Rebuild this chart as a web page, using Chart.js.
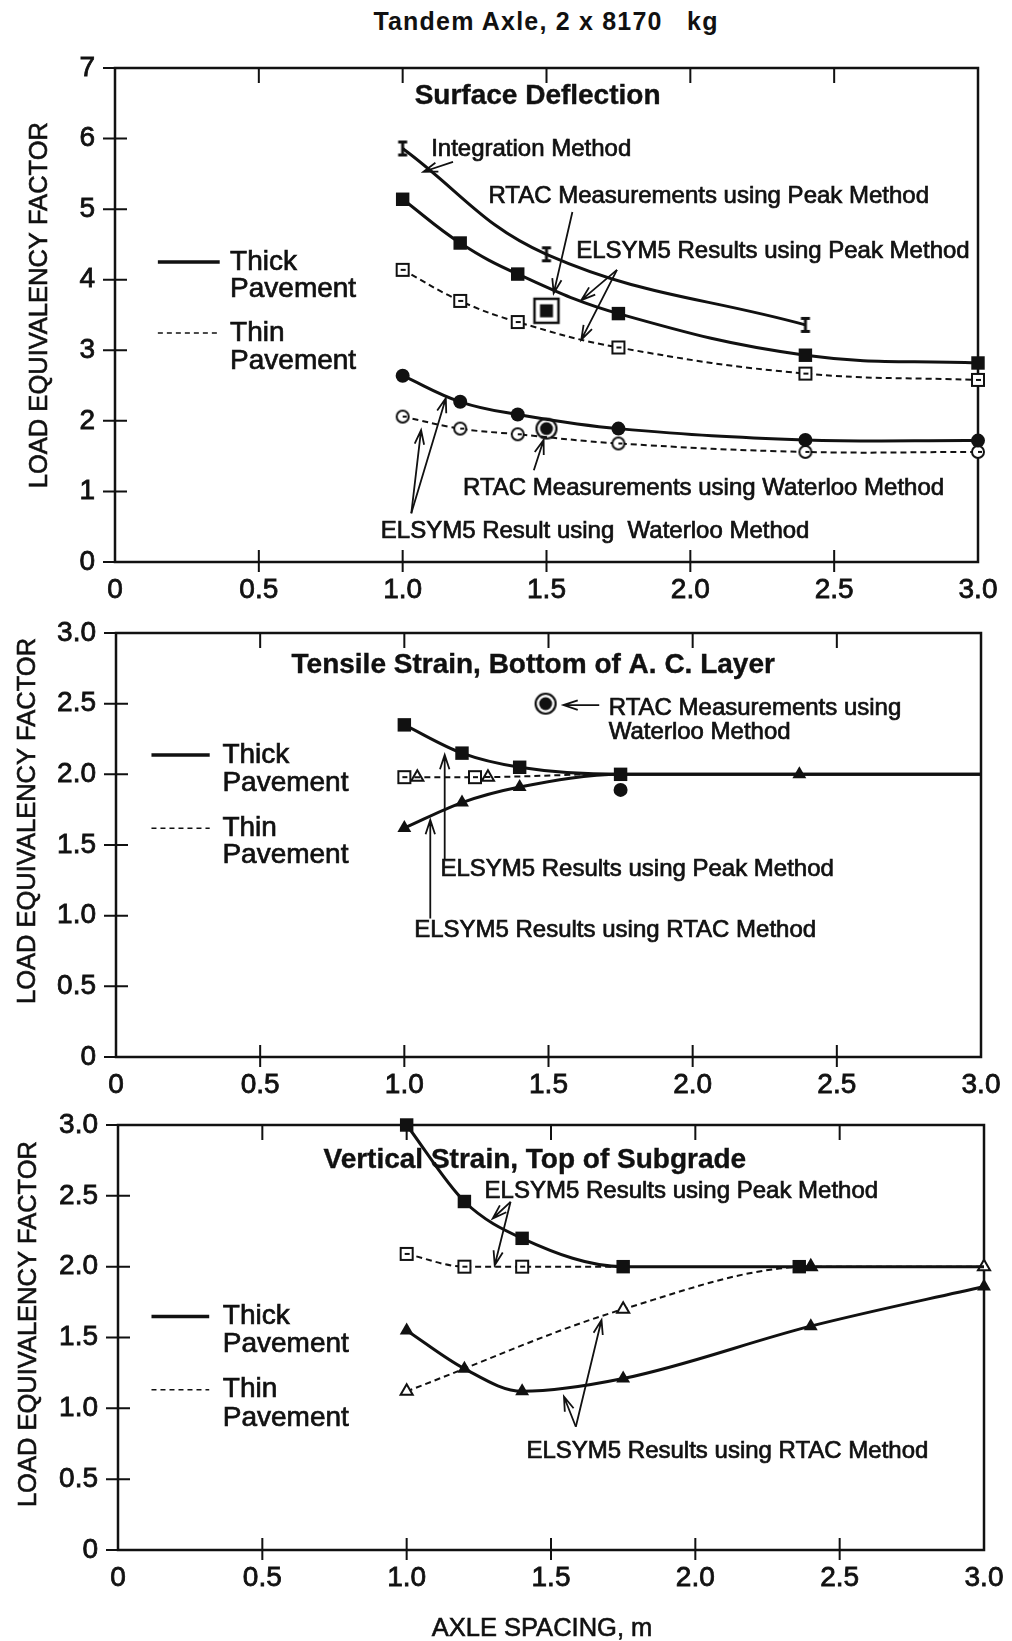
<!DOCTYPE html>
<html>
<head>
<meta charset="utf-8">
<title>Tandem Axle, 2 x 8170 kg</title>
<script src="https://cdn.jsdelivr.net/npm/chart.js@4.4.1/dist/chart.umd.min.js"></script>
<style>
  html, body { margin: 0; padding: 0; background: #fff; }
  body { width: 1012px; height: 1641px; position: relative; overflow: hidden;
         font-family: "Liberation Sans", Arial, Helvetica, sans-serif; color: #111; }
  canvas { position: absolute; left: 0; }
  #title { position: absolute; top: 6px; left: 0; width: 1092px; text-align: center;
           font-weight: bold; font-size: 25px; line-height: 30px; letter-spacing: 1.2px; white-space: pre; }
  #xtitle { position: absolute; top: 1612px; left: 0; width: 1084px; text-align: center;
            font-size: 25.5px; line-height: 30px; -webkit-text-stroke: 0.6px #111; }
</style>
</head>
<body>
<div id="title">Tandem Axle, 2 x 8170   kg</div>
<canvas id="surface" width="1012" height="600" style="top:30px"></canvas>
<canvas id="tensile" width="1012" height="520" style="top:590px"></canvas>
<canvas id="vertical" width="1012" height="556" style="top:1085px"></canvas>
<div id="xtitle">AXLE SPACING, m</div>
<script>
const FONT = '"Liberation Sans", Arial, Helvetica, sans-serif';
Chart.defaults.font.family = FONT;
Chart.defaults.color = '#111';

// tick labels
const xTickLabels = ['0', '0.5', '1.0', '1.5', '2.0', '2.5', '3.0'];
const yTickLabelsDefl = ['0', '1', '2', '3', '4', '5', '6', '7'];
const yTickLabelsStrain = ['0', '0.5', '1.0', '1.5', '2.0', '2.5', '3.0'];

// surface deflection (axle spacing, m -> load equivalency factor)
const defX = [1.0, 1.2, 1.4, 1.75, 2.4, 3.0];
const defThickPeak = [5.14, 4.52, 4.08, 3.52, 2.93, 2.82];
const defThinPeak = [4.14, 3.70, 3.40, 3.04, 2.67, 2.58];
const defThickWaterloo = [2.64, 2.27, 2.09, 1.89, 1.73, 1.72];
const defThinWaterloo = [2.06, 1.89, 1.81, 1.68, 1.56, 1.56];
const defIntegX = [1.0, 1.5, 2.4];
const defIntegration = [5.86, 4.36, 3.36];
const defRtacX = [1.5];
const defRtacPeak = [3.56];
const defRtacWaterloo = [1.89];

// tensile strain, bottom of A.C. layer
const tsX = [1.0, 1.2, 1.4, 1.75, 2.37, 3.0];
const tsThickPeak = [2.35, 2.15, 2.05, 2.0, 2.0, 2.0];
const tsThickRtac = [1.62, 1.80, 1.91, 2.0, 2.0, 2.0];
const tsThinPeakX = [1.0, 1.245, 1.4, 1.62];
const tsThinPeak = [1.98, 1.98, 1.985, 2.0];
const tsThinRtacX = [1.045, 1.29];
const tsThinRtac = [1.98, 1.98];
const tsWaterlooX = [1.75];
const tsWaterloo = [1.89];
const tsRtacX = [1.49];
const tsRtacWaterloo = [2.50];

// vertical strain, top of subgrade
const vsX = [1.0, 1.2, 1.4, 1.75, 2.36, 3.0];
const vsThickPeak = [3.0, 2.46, 2.20, 2.0, 2.0, 2.0];
const vsThinPeakX = [1.0, 1.2, 1.4, 1.75];
const vsThinPeak = [2.09, 2.0, 2.0, 2.0];
const vsRtacX = [1.0, 1.2, 1.4, 1.75, 2.4, 3.0];
const vsThickRtac = [1.55, 1.28, 1.12, 1.21, 1.58, 1.86];
const vsThinRtacX = [1.0, 1.75, 2.4, 3.0];
const vsThinRtac = [1.12, 1.70, 2.0, 2.0];

// small marker images
function icon(w, h, draw) {
  const c = document.createElement('canvas');
  c.width = w; c.height = h;
  const g = c.getContext('2d');
  g.strokeStyle = '#111'; g.fillStyle = '#111';
  draw(g);
  return c;
}
const iBeam = icon(12, 18, g => {
  g.lineWidth = 3;
  g.beginPath();
  g.moveTo(6, 2); g.lineTo(6, 16);
  g.moveTo(1.5, 2.5); g.lineTo(10.5, 2.5);
  g.moveTo(1.5, 15.5); g.lineTo(10.5, 15.5);
  g.stroke();
});
const openSquare = icon(16, 16, g => {
  g.fillStyle = '#fff'; g.fillRect(2, 2, 12, 12);
  g.lineWidth = 2; g.strokeRect(2, 2, 12, 12);
  g.fillStyle = '#111'; g.fillRect(6, 7, 5, 2);
});
const openCircle = icon(16, 16, g => {
  g.fillStyle = '#fff';
  g.beginPath(); g.arc(8, 8, 6, 0, Math.PI * 2); g.fill();
  g.lineWidth = 2; g.stroke();
  g.fillStyle = '#111'; g.fillRect(8, 7, 4, 2);
});
const squareTarget = icon(32, 32, g => {
  g.fillStyle = '#fff'; g.fillRect(4, 4, 24, 24);
  g.lineWidth = 2.5; g.strokeRect(4, 4, 24, 24);
  g.fillStyle = '#111'; g.fillRect(9.5, 9.5, 13, 13);
});
const circleTarget = icon(26, 26, g => {
  g.fillStyle = '#fff';
  g.beginPath(); g.arc(13, 13, 10, 0, Math.PI * 2); g.fill();
  g.lineWidth = 2.2; g.stroke();
  g.fillStyle = '#111';
  g.beginPath(); g.arc(13, 13, 6.5, 0, Math.PI * 2); g.fill();
});

function pts(xs, ys) { return xs.map((x, i) => ({ x, y: ys[i] })); }

const thick = { borderWidth: 3, borderDash: [] };
const thin = { borderWidth: 2, borderDash: [6, 4] };
const smooth = { cubicInterpolationMode: 'default', tension: 0.4 };
const noLine = { showLine: false };
const fillSquare = { pointStyle: 'rect', pointRadius: 9.5 };
const fillCircle = { pointStyle: 'circle', pointRadius: 7 };
const fillTri = { pointStyle: 'triangle', pointRadius: 8 };
const openTri = { pointStyle: 'triangle', pointRadius: 7, pointBackgroundColor: '#fff', pointBorderWidth: 2 };

function series(xs, ys, ...opts) {
  return Object.assign({
    data: pts(xs, ys),
    borderColor: '#111', backgroundColor: '#111',
    pointBackgroundColor: '#111', pointBorderColor: '#111', pointBorderWidth: 0,
    cubicInterpolationMode: 'monotone', clip: false, fill: false
  }, ...opts);
}

// frame, cross ticks, y title, labels, arrows and key, drawn with the chart's own scales
function decorPlugin(d) {
  return {
    id: 'decor',
    beforeDatasetsDraw(chart) {
      const { ctx, chartArea: a, scales: { x, y } } = chart;
      const px = v => x.getPixelForValue(v);
      const py = v => y.getPixelForValue(v);
      ctx.save();
      ctx.strokeStyle = '#111';
      ctx.fillStyle = '#111';
      ctx.lineWidth = 2.5;
      ctx.strokeRect(a.left, a.top, a.right - a.left, a.bottom - a.top);

      ctx.lineWidth = 2;
      ctx.beginPath();
      y.ticks.forEach(t => {
        ctx.moveTo(a.left - 12, py(t.value));
        ctx.lineTo(a.left + 12, py(t.value));
      });
      x.ticks.forEach(t => {
        if (t.value <= 0 || t.value >= 3) return;
        ctx.moveTo(px(t.value), a.bottom + 10);
        ctx.lineTo(px(t.value), a.bottom - 12);
        ctx.moveTo(px(t.value), a.top);
        ctx.lineTo(px(t.value), a.top + 15);
      });
      ctx.stroke();

      // y axis title
      ctx.save();
      ctx.translate(d.yTitle.px, py(d.yTitle.y));
      ctx.rotate(-Math.PI / 2);
      ctx.font = `25.5px ${FONT}`;
      ctx.textAlign = 'center';
      ctx.textBaseline = 'middle';
      ctx.lineWidth = 0.6;
      ctx.fillText('LOAD EQUIVALENCY FACTOR', 0, 0);
      ctx.strokeText('LOAD EQUIVALENCY FACTOR', 0, 0);
      ctx.restore();

      // key
      d.key.forEach(k => {
        ctx.lineWidth = k.dash ? 1.6 : 3.5;
        ctx.setLineDash(k.dash ? [5, 4] : []);
        ctx.beginPath();
        ctx.moveTo(px(k.x1), py(k.y));
        ctx.lineTo(px(k.x2), py(k.y));
        ctx.stroke();
      });
      ctx.setLineDash([]);

      // text labels
      d.notes.forEach(n => {
        ctx.font = `${n.bold ? 'bold ' : ''}${n.size || 24}px ${FONT}`;
        ctx.textAlign = n.align || 'left';
        ctx.textBaseline = 'middle';
        ctx.lineWidth = n.bold ? 0.4 : 0.7;
        ctx.fillText(n.text, px(n.x), py(n.y));
        ctx.strokeText(n.text, px(n.x), py(n.y));
      });

      // arrows
      ctx.lineWidth = 1.8;
      d.arrows.forEach(([x1, y1, x2, y2]) => {
        const ax = px(x1), ay = py(y1), bx = px(x2), by = py(y2);
        const ang = Math.atan2(by - ay, bx - ax);
        ctx.beginPath();
        ctx.moveTo(ax, ay);
        ctx.lineTo(bx, by);
        ctx.moveTo(bx - 15 * Math.cos(ang - 0.32), by - 15 * Math.sin(ang - 0.32));
        ctx.lineTo(bx, by);
        ctx.lineTo(bx - 15 * Math.cos(ang + 0.32), by - 15 * Math.sin(ang + 0.32));
        ctx.stroke();
      });
      ctx.restore();
    }
  };
}

function makePanel(id, box, yMax, yStep, yLabels, datasets, decor) {
  return new Chart(document.getElementById(id), {
    type: 'line',
    data: { datasets },
    options: {
      responsive: false,
      animation: false,
      events: [],
      layout: { padding: { top: box.top - box.canvasTop, right: 1012 - box.right, left: 0, bottom: 0 } },
      plugins: { legend: { display: false }, tooltip: { enabled: false } },
      scales: {
        x: {
          type: 'linear', min: 0, max: 3,
          grid: { display: false }, border: { display: false },
          ticks: { stepSize: 0.5, padding: 3, autoSkip: false, maxRotation: 0,
                   font: { size: 28 }, color: '#111', textStrokeColor: '#111', textStrokeWidth: 0.8,
                   callback: (v, i) => xTickLabels[i] },
          afterFit: s => { s.height = box.canvasTop + box.height - box.bottom; }
        },
        y: {
          min: 0, max: yMax,
          grid: { display: false }, border: { display: false },
          ticks: { stepSize: yStep, padding: 12, autoSkip: false,
                   font: { size: 28 }, color: '#111', textStrokeColor: '#111', textStrokeWidth: 0.8,
                   callback: (v, i) => yLabels[i] },
          afterFit: s => { s.width = box.left; }
        }
      }
    },
    plugins: [decorPlugin(decor)]
  });
}

makePanel('surface',
  { canvasTop: 30, height: 600, left: 115, right: 978, top: 68, bottom: 562 },
  7, 1, yTickLabelsDefl,
  [
    series(defIntegX, defIntegration, thick, smooth, { pointStyle: iBeam, pointRadius: 6 }),
    series(defX, defThickPeak, thick, smooth, fillSquare),
    series(defX, defThinPeak, thin, smooth, { pointStyle: openSquare, pointRadius: 6 }),
    series(defX, defThickWaterloo, thick, smooth, fillCircle),
    series(defX, defThinWaterloo, thin, smooth, { pointStyle: openCircle, pointRadius: 6 }),
    series(defRtacX, defRtacPeak, noLine, { pointStyle: squareTarget, pointRadius: 12 }),
    series(defRtacX, defRtacWaterloo, noLine, { pointStyle: circleTarget, pointRadius: 10 })
  ],
  {
    yTitle: { px: 40, y: 3.64 },
    key: [
      { x1: 0.149, x2: 0.364, y: 4.25 },
      { x1: 0.149, x2: 0.364, y: 3.245, dash: true }
    ],
    notes: [
      { text: 'Surface Deflection', x: 1.469, y: 6.60, bold: true, size: 28, align: 'center' },
      { text: 'Integration Method', x: 1.099, y: 5.84 },
      { text: 'RTAC Measurements using Peak Method', x: 1.298, y: 5.18 },
      { text: 'ELSYM5 Results using Peak Method', x: 1.603, y: 4.40 },
      { text: 'RTAC Measurements using Waterloo Method', x: 1.21, y: 1.044 },
      { text: 'ELSYM5 Result using  Waterloo Method', x: 0.924, y: 0.43 },
      { text: 'Thick', x: 0.40, y: 4.25, size: 28 },
      { text: 'Pavement', x: 0.40, y: 3.87, size: 28 },
      { text: 'Thin', x: 0.40, y: 3.245, size: 28 },
      { text: 'Pavement', x: 0.40, y: 2.84, size: 28 }
    ],
    arrows: [
      [1.175, 5.67, 1.072, 5.53],
      [1.590, 4.96, 1.525, 3.81],
      [1.745, 4.14, 1.621, 3.71],
      [1.745, 4.14, 1.621, 3.15],
      [1.456, 1.30, 1.49, 1.73],
      [1.03, 0.69, 1.064, 1.87],
      [1.03, 0.69, 1.15, 2.32]
    ]
  });

makePanel('tensile',
  { canvasTop: 590, height: 520, left: 116, right: 981, top: 633, bottom: 1057 },
  3, 0.5, yTickLabelsStrain,
  [
    series(tsX, tsThickPeak, thick, fillSquare, { pointRadius: [9.5, 9.5, 9.5, 9.5, 0, 0] }),
    series(tsX, tsThickRtac, thick, fillTri, { pointRadius: [8, 8, 8, 0, 8, 0] }),
    series(tsThinPeakX, tsThinPeak, thin, { pointStyle: openSquare, pointRadius: [6, 6, 0, 0] }),
    series(tsThinRtacX, tsThinRtac, noLine, openTri),
    series(tsWaterlooX, tsWaterloo, noLine, fillCircle),
    series(tsRtacX, tsRtacWaterloo, noLine, { pointStyle: circleTarget, pointRadius: 10 })
  ],
  {
    yTitle: { px: 28, y: 1.67 },
    key: [
      { x1: 0.123, x2: 0.325, y: 2.137 },
      { x1: 0.123, x2: 0.325, y: 1.618, dash: true }
    ],
    notes: [
      { text: 'Tensile Strain, Bottom of A. C. Layer', x: 1.447, y: 2.77, bold: true, size: 28, align: 'center' },
      { text: 'RTAC Measurements using', x: 1.709, y: 2.467 },
      { text: 'Waterloo Method', x: 1.709, y: 2.30 },
      { text: 'ELSYM5 Results using Peak Method', x: 1.125, y: 1.326 },
      { text: 'ELSYM5 Results using RTAC Method', x: 1.034, y: 0.896 },
      { text: 'Thick', x: 0.369, y: 2.137, size: 28 },
      { text: 'Pavement', x: 0.369, y: 1.937, size: 28 },
      { text: 'Thin', x: 0.369, y: 1.618, size: 28 },
      { text: 'Pavement', x: 0.369, y: 1.429, size: 28 }
    ],
    arrows: [
      [1.676, 2.49, 1.552, 2.49],
      [1.14, 1.40, 1.14, 2.137],
      [1.09, 0.98, 1.09, 1.677]
    ]
  });

makePanel('vertical',
  { canvasTop: 1085, height: 556, left: 118, right: 984, top: 1125, bottom: 1550 },
  3, 0.5, yTickLabelsStrain,
  [
    series(vsX, vsThickPeak, thick, fillSquare, { pointRadius: [9.5, 9.5, 9.5, 9.5, 9.5, 0] }),
    series(vsThinPeakX, vsThinPeak, thin, { pointStyle: openSquare, pointRadius: [6, 6, 6, 0] }),
    series(vsRtacX, vsThickRtac, thick, fillTri),
    series(vsThinRtacX, vsThinRtac, thin, openTri, { pointBackgroundColor: ['#fff', '#fff', '#111', '#fff'] })
  ],
  {
    yTitle: { px: 29, y: 1.595 },
    key: [
      { x1: 0.116, x2: 0.316, y: 1.648 },
      { x1: 0.116, x2: 0.316, y: 1.131, dash: true }
    ],
    notes: [
      { text: 'Vertical Strain, Top of Subgrade', x: 1.444, y: 2.75, bold: true, size: 28, align: 'center' },
      { text: 'ELSYM5 Results using Peak Method', x: 1.27, y: 2.53 },
      { text: 'ELSYM5 Results using RTAC Method', x: 1.415, y: 0.695 },
      { text: 'Thick', x: 0.363, y: 1.648, size: 28 },
      { text: 'Pavement', x: 0.363, y: 1.449, size: 28 },
      { text: 'Thin', x: 0.363, y: 1.131, size: 28 },
      { text: 'Pavement', x: 0.363, y: 0.932, size: 28 }
    ],
    arrows: [
      [1.36, 2.458, 1.298, 2.34],
      [1.36, 2.458, 1.305, 2.01],
      [1.586, 0.87, 1.545, 1.082],
      [1.586, 0.87, 1.675, 1.623]
    ]
  });
</script>
</body>
</html>
